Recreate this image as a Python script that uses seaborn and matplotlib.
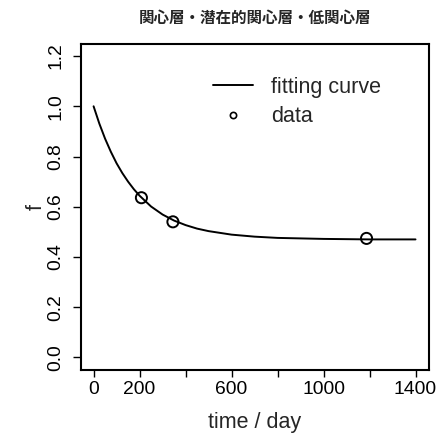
import matplotlib
matplotlib.use("Agg")
import matplotlib.pyplot as plt
import seaborn as sns
import pandas as pd
from matplotlib.lines import Line2D

# Data
curve_t = [0, 25, 50, 75, 100, 125, 150, 175, 200, 250, 300, 350, 400, 450, 500,
           600, 700, 800, 1000, 1200, 1400]
curve_f = [1.0, 0.931, 0.871, 0.819, 0.773, 0.734, 0.700, 0.670, 0.644, 0.601,
           0.569, 0.545, 0.527, 0.513, 0.503, 0.489, 0.481, 0.476, 0.472, 0.470, 0.470]
data_t = [208, 345, 1187]
data_f = [0.636, 0.540, 0.474]
x_ticks = [0, 200, 400, 600, 800, 1000, 1200, 1400]
x_labels = ["0", "200", "", "600", "", "1000", "", "1400"]
y_ticks = [0.0, 0.2, 0.4, 0.6, 0.8, 1.0, 1.2]
y_labels = ["0.0", "0.2", "0.4", "0.6", "0.8", "1.0", "1.2"]
title = "関心層・潜在的関心層・低関心層"

sns.set_style("white")
plt.rcParams['font.family'] = ['Liberation Sans', 'DejaVu Sans']

curve_df = pd.DataFrame({"t": curve_t, "f": curve_f})
data_df = pd.DataFrame({"t": data_t, "f": data_f})

fig = plt.figure(figsize=(4.37, 4.34), dpi=100)
ax = fig.add_axes([0.1847, 0.1486, 0.7977, 0.75])

sns.lineplot(data=curve_df, x="t", y="f", ax=ax, color="black", linewidth=1.4)
sns.scatterplot(data=data_df, x="t", y="f", ax=ax, s=64, facecolor="none",
                edgecolor="black", linewidth=1.4, zorder=3)

ax.set_xlim(-56, 1460)
ax.set_ylim(-0.048, 1.248)
ax.set_xticks(x_ticks, x_labels)
ax.set_yticks(y_ticks, y_labels)
ax.tick_params(axis="both", labelsize=13.9, labelcolor="black")
ax.tick_params(axis="x", bottom=True, direction="out", length=5, width=1.0,
               pad=3.5, color="black")
ax.tick_params(axis="y", left=True, direction="out", length=6, width=1.0,
               pad=6, color="black", labelrotation=90)
for lab in ax.get_yticklabels():
    lab.set_verticalalignment("center")
for s in ax.spines.values():
    s.set_color("black")
    s.set_linewidth(1.5)

ax.set_xlabel("time / day", fontsize=15.5, labelpad=10)
ax.set_ylabel("f", fontsize=15.5, labelpad=0.5)
ax.set_title(title, fontsize=11.2, fontweight="bold", pad=15,
             family=['Noto Sans CJK JP', 'DejaVu Sans'])

handles = [Line2D([], [], color="black", linewidth=1.4),
           Line2D([], [], color="black", marker="o", markerfacecolor="none",
                  markersize=4.5, markeredgewidth=1.2, linestyle="none")]
ax.legend(handles, ["fitting curve", "data"], loc="upper left",
          bbox_to_anchor=(0.3795, 0.90), frameon=False, fontsize=15.5,
          handlelength=1.86, handletextpad=0.84, labelspacing=0.4,
          borderpad=0, borderaxespad=0)

fig.savefig("out.png", dpi=100)
